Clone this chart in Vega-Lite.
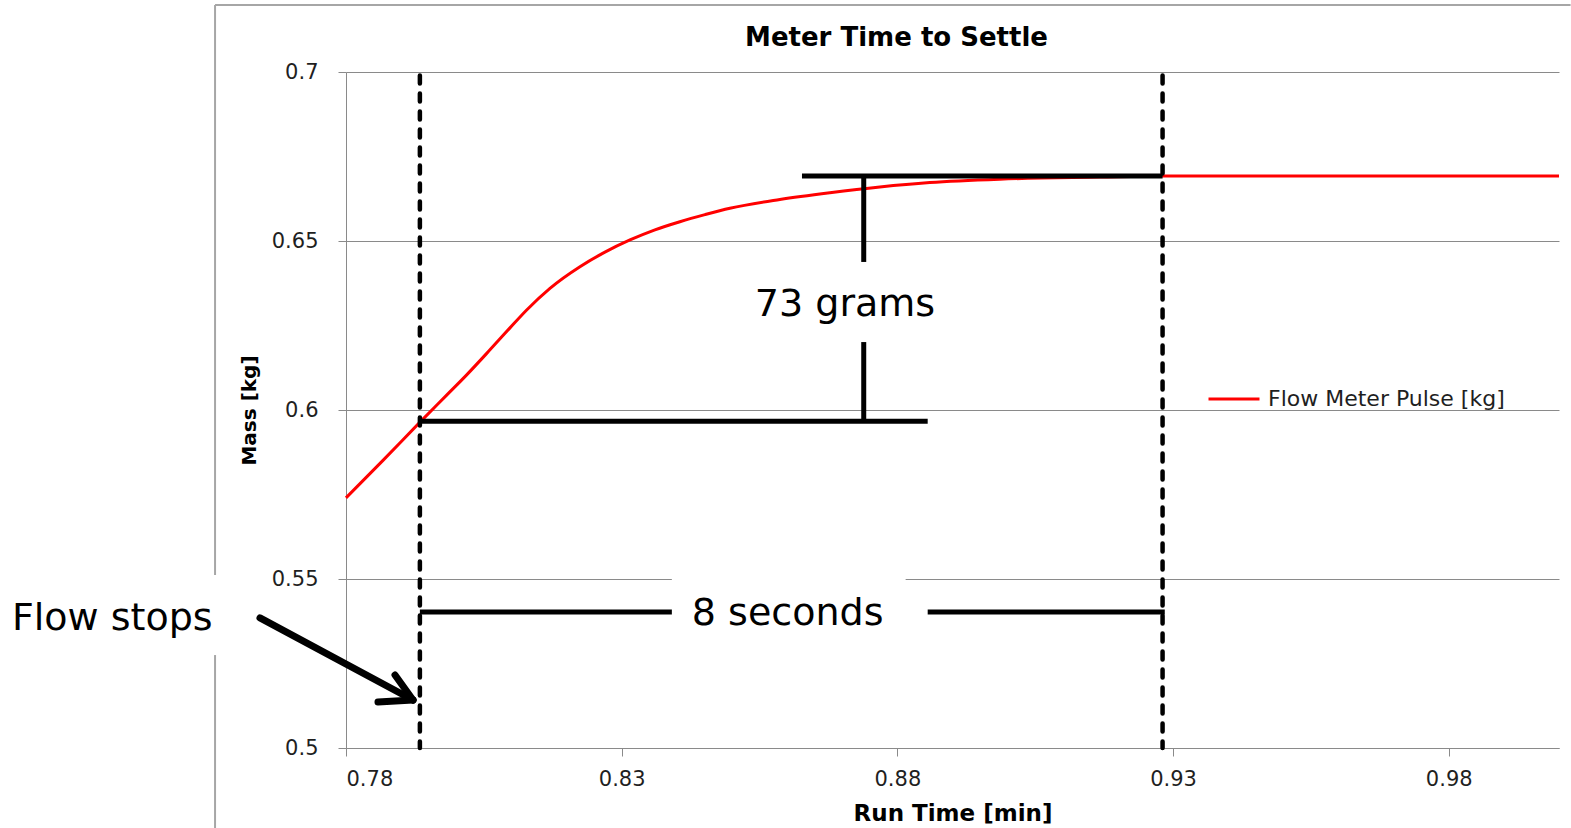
{
  "$schema": "https://vega.github.io/schema/vega-lite/v6.json",
  "width": 1213,
  "height": 676,
  "autosize": {"type": "none"},
  "padding": {"left": 346, "top": 72, "right": 12, "bottom": 80},
  "background": "white",
  "title": {"text": "Meter Time to Settle", "fontSize": 26, "fontWeight": "bold", "font": "DejaVu Sans", "color": "#000000", "anchor": "middle", "dx": -56, "offset": -68, "baseline": "alphabetic"},
  "config": {
    "font": "DejaVu Sans",
    "view": {"stroke": null},
    "axis": {
      "labelFont": "DejaVu Sans", "labelFontSize": 21, "labelColor": "#1f1f1f",
      "titleFont": "DejaVu Sans", "titleFontWeight": "bold", "titleColor": "#000000",
      "domainColor": "#8a8a8a", "tickColor": "#8a8a8a", "gridColor": "#8a8a8a",
      "domainWidth": 1, "tickWidth": 1, "gridWidth": 1, "tickSize": 8
    }
  },
  "datasets": {
    "curve": [
      {"t": 0.78, "v": 0.5740, "series": "Flow Meter Pulse [kg]"},
      {"t": 0.78671, "v": 0.5851, "series": "Flow Meter Pulse [kg]"},
      {"t": 0.79342, "v": 0.5964, "series": "Flow Meter Pulse [kg]"},
      {"t": 0.79826, "v": 0.6044, "series": "Flow Meter Pulse [kg]"},
      {"t": 0.80189, "v": 0.6104, "series": "Flow Meter Pulse [kg]"},
      {"t": 0.80611, "v": 0.6178, "series": "Flow Meter Pulse [kg]"},
      {"t": 0.80974, "v": 0.6243, "series": "Flow Meter Pulse [kg]"},
      {"t": 0.81277, "v": 0.6296, "series": "Flow Meter Pulse [kg]"},
      {"t": 0.81699, "v": 0.6360, "series": "Flow Meter Pulse [kg]"},
      {"t": 0.82243, "v": 0.6424, "series": "Flow Meter Pulse [kg]"},
      {"t": 0.82696, "v": 0.6467, "series": "Flow Meter Pulse [kg]"},
      {"t": 0.8315, "v": 0.6503, "series": "Flow Meter Pulse [kg]"},
      {"t": 0.83603, "v": 0.6533, "series": "Flow Meter Pulse [kg]"},
      {"t": 0.84056, "v": 0.6557, "series": "Flow Meter Pulse [kg]"},
      {"t": 0.8451, "v": 0.6578, "series": "Flow Meter Pulse [kg]"},
      {"t": 0.84963, "v": 0.6597, "series": "Flow Meter Pulse [kg]"},
      {"t": 0.85869, "v": 0.6623, "series": "Flow Meter Pulse [kg]"},
      {"t": 0.86776, "v": 0.6643, "series": "Flow Meter Pulse [kg]"},
      {"t": 0.87683, "v": 0.6660, "series": "Flow Meter Pulse [kg]"},
      {"t": 0.88589, "v": 0.6673, "series": "Flow Meter Pulse [kg]"},
      {"t": 0.89858, "v": 0.6683, "series": "Flow Meter Pulse [kg]"},
      {"t": 0.91672, "v": 0.6689, "series": "Flow Meter Pulse [kg]"},
      {"t": 0.92814, "v": 0.6692, "series": "Flow Meter Pulse [kg]"},
      {"t": 0.95, "v": 0.6692, "series": "Flow Meter Pulse [kg]"},
      {"t": 0.975, "v": 0.6692, "series": "Flow Meter Pulse [kg]"},
      {"t": 1.0, "v": 0.6692, "series": "Flow Meter Pulse [kg]"}
    ],
    "settle": [
      {"t": 0.7934, "v": 0.699, "v2": 0.5},
      {"t": 0.9281, "v": 0.699, "v2": 0.5}
    ],
    "segments": [
      {"t": 0.8627, "t2": 0.9281, "v": 0.6692, "v2": 0.6692},
      {"t": 0.7934, "t2": 0.8855, "v": 0.5967, "v2": 0.5967},
      {"t": 0.8739, "t2": 0.8739, "v": 0.6692, "v2": 0.6438},
      {"t": 0.8739, "t2": 0.8739, "v": 0.6201, "v2": 0.5967},
      {"t": 0.7934, "t2": 0.8391, "v": 0.5402, "v2": 0.5402},
      {"t": 0.8855, "t2": 0.9285, "v": 0.5402, "v2": 0.5402}
    ],
    "arrow": [
      {"t": 0.7644, "t2": 0.79215, "v": 0.5385, "v2": 0.5142},
      {"t": 0.7858, "t2": 0.79215, "v": 0.5136, "v2": 0.5142},
      {"t": 0.78889, "t2": 0.79215, "v": 0.5216, "v2": 0.5142}
    ],
    "frame": [
      {"t": 0.75625, "t2": 0.75625, "v": 0.7198, "v2": 0.5512},
      {"t": 0.75625, "t2": 0.75625, "v": 0.5275, "v2": 0.4763},
      {"t": 0.75625, "t2": 1.0021, "v": 0.7198, "v2": 0.7198}
    ],
    "box": [
      {"t": 0.8391, "t2": 0.8815, "v": 0.553, "v2": 0.530}
    ],
    "notes": [
      {"t": 0.8705, "v": 0.631, "text": "73 grams"},
      {"t": 0.8601, "v": 0.5395, "text": "8 seconds"},
      {"t": 0.7376, "v": 0.5381, "text": "Flow stops"}
    ]
  },
  "layer": [
    {
      "data": {"name": "frame"},
      "mark": {"type": "rule", "color": "#a6a6a6", "strokeWidth": 2},
      "encoding": {
        "x": {"field": "t", "type": "quantitative", "title": "Run Time [min]", "scale": {"domain": [0.78, 1.0], "nice": false, "zero": false}, "axis": {"values": [0.78, 0.83, 0.88, 0.93, 0.98], "format": ".2~f", "grid": false, "labelPadding": 12, "titleFontSize": 23, "titlePadding": 13}},
        "x2": {"field": "t2"},
        "y": {"field": "v", "type": "quantitative", "title": "Mass [kg]", "scale": {"domain": [0.5, 0.7], "nice": false, "zero": false}, "axis": {"values": [0.5, 0.55, 0.6, 0.65, 0.7], "format": ".2~f", "grid": true, "labelPadding": 20, "titleFontSize": 20, "titlePadding": 12}},
        "y2": {"field": "v2"}
      }
    },
    {
      "data": {"name": "box"},
      "mark": {"type": "rect", "color": "white"},
      "encoding": {
        "x": {"field": "t", "type": "quantitative", "title": "Run Time [min]", "scale": {"domain": [0.78, 1.0], "nice": false, "zero": false}},
        "x2": {"field": "t2"},
        "y": {"field": "v", "type": "quantitative", "title": "Mass [kg]", "scale": {"domain": [0.5, 0.7], "nice": false, "zero": false}},
        "y2": {"field": "v2"}
      }
    },
    {
      "data": {"name": "curve"},
      "mark": {"type": "line", "strokeWidth": 3, "interpolate": "monotone"},
      "encoding": {
        "x": {"field": "t", "type": "quantitative", "title": "Run Time [min]", "scale": {"domain": [0.78, 1.0], "nice": false, "zero": false}},
        "y": {"field": "v", "type": "quantitative", "title": "Mass [kg]", "scale": {"domain": [0.5, 0.7], "nice": false, "zero": false}},
        "color": {
          "field": "series", "type": "nominal",
          "scale": {"domain": ["Flow Meter Pulse [kg]"], "range": ["#ff0000"]},
          "legend": {"orient": "none", "legendX": 861, "legendY": 300, "title": null, "symbolType": "stroke", "symbolSize": 2600, "symbolStrokeWidth": 3, "labelFontSize": 22, "labelOffset": 7, "labelLimit": 500, "labelColor": "#1f1f1f", "padding": 0, "labelFont": "DejaVu Sans"}
        }
      }
    },
    {
      "data": {"name": "settle"},
      "mark": {"type": "rule", "color": "#000000", "strokeWidth": 4.5, "strokeDash": [8, 10], "strokeCap": "round"},
      "encoding": {
        "x": {"field": "t", "type": "quantitative", "title": "Run Time [min]", "scale": {"domain": [0.78, 1.0], "nice": false, "zero": false}},
        "y": {"field": "v", "type": "quantitative", "title": "Mass [kg]", "scale": {"domain": [0.5, 0.7], "nice": false, "zero": false}},
        "y2": {"field": "v2"}
      }
    },
    {
      "data": {"name": "segments"},
      "mark": {"type": "rule", "color": "#000000", "strokeWidth": 5},
      "encoding": {
        "x": {"field": "t", "type": "quantitative", "title": "Run Time [min]", "scale": {"domain": [0.78, 1.0], "nice": false, "zero": false}},
        "x2": {"field": "t2"},
        "y": {"field": "v", "type": "quantitative", "title": "Mass [kg]", "scale": {"domain": [0.5, 0.7], "nice": false, "zero": false}},
        "y2": {"field": "v2"}
      }
    },
    {
      "data": {"name": "arrow"},
      "mark": {"type": "rule", "color": "#000000", "strokeWidth": 7, "strokeCap": "round"},
      "encoding": {
        "x": {"field": "t", "type": "quantitative", "title": "Run Time [min]", "scale": {"domain": [0.78, 1.0], "nice": false, "zero": false}},
        "x2": {"field": "t2"},
        "y": {"field": "v", "type": "quantitative", "title": "Mass [kg]", "scale": {"domain": [0.5, 0.7], "nice": false, "zero": false}},
        "y2": {"field": "v2"}
      }
    },
    {
      "data": {"name": "notes"},
      "mark": {"type": "text", "font": "DejaVu Sans", "fontSize": 38, "color": "#000000", "align": "center", "baseline": "middle"},
      "encoding": {
        "x": {"field": "t", "type": "quantitative", "title": "Run Time [min]", "scale": {"domain": [0.78, 1.0], "nice": false, "zero": false}},
        "y": {"field": "v", "type": "quantitative", "title": "Mass [kg]", "scale": {"domain": [0.5, 0.7], "nice": false, "zero": false}},
        "text": {"field": "text", "type": "nominal"}
      }
    }
  ]
}
